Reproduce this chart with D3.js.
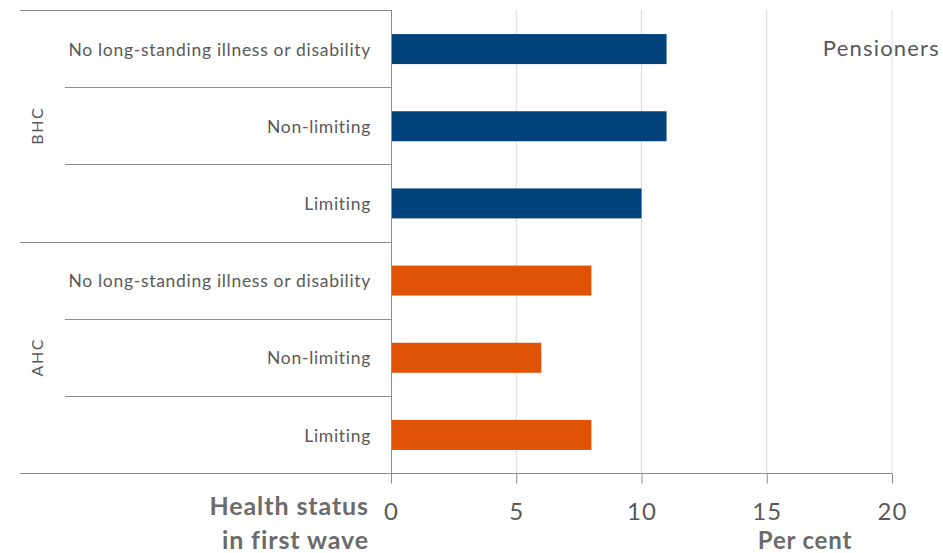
<!DOCTYPE html>
<html><head><meta charset="utf-8">
<script src="https://cdn.jsdelivr.net/npm/d3@7"></script>
<style>body{margin:0;background:#fff}svg{display:block}</style>
</head><body>
<svg id="c" width="943" height="553"></svg>
<script>
const groups = ["BHC", "AHC"];
const categories = ["No long-standing illness or disability", "Non-limiting", "Limiting"];
const bhcValues = [11, 11, 10];
const ahcValues = [8, 6, 8];
const xTicks = [0, 5, 10, 15, 20];
const panelTitle = "Pensioners";
const xTitle = "Per cent";
const yTitle = ["Health status", "in first wave"];

const colors = {BHC: "#01437a", AHC: "#e05206"};
const font = "Lato, 'Open Sans', sans-serif";
const textCol = "#595959";
const svg = d3.select("#c");

const rows = [];
groups.forEach((g, gi) => {
  const vals = gi === 0 ? bhcValues : ahcValues;
  categories.forEach((c, ci) => rows.push({group: g, cat: c, value: vals[ci], key: g + "|" + c, first: ci === 0}));
});

const x = d3.scaleLinear().domain([0, 20]).range([391, 892]);
const y = d3.scaleBand().domain(rows.map(d => d.key)).range([10, 473]).paddingInner(0).paddingOuter(0);
const bh = 30;

// gridlines
svg.append("g").selectAll("line").data(xTicks.slice(1)).join("line")
  .attr("x1", d => x(d)).attr("x2", d => x(d)).attr("y1", 10).attr("y2", 473)
  .attr("stroke", "#d9d9d9").attr("stroke-width", 1);

// bars
svg.append("g").selectAll("rect").data(rows).join("rect")
  .attr("x", x(0)).attr("width", d => x(d.value) - x(0))
  .attr("y", d => y(d.key) + y.bandwidth() / 2 - bh / 2 + 0.5).attr("height", bh)
  .attr("fill", d => colors[d.group]);

// row separator lines
const lineCol = "#8c8c8c";
svg.append("g").selectAll("line").data(rows).join("line")
  .attr("x1", d => d.first ? 20 : 65).attr("x2", x(0))
  .attr("y1", d => Math.round(y(d.key)) + 0.5).attr("y2", d => Math.round(y(d.key)) + 0.5)
  .attr("stroke", lineCol).attr("stroke-width", 1);

// bottom axis
const xAxis = d3.axisBottom(x).tickValues(xTicks).tickSize(10).tickPadding(19).tickFormat(d3.format("d"));
const ax = svg.append("g").attr("transform", "translate(0,473.5)").call(xAxis);
ax.select(".domain").remove();
ax.selectAll(".tick line").attr("stroke", lineCol);
ax.selectAll(".tick text").attr("fill", textCol).attr("font-family", font).attr("font-size", 24)
  .attr("letter-spacing", 1);
svg.append("line").attr("x1", 20).attr("x2", x(20)).attr("y1", 473.5).attr("y2", 473.5).attr("stroke", lineCol);
// vertical axis line
svg.append("line").attr("x1", x(0) + 0.5).attr("x2", x(0) + 0.5).attr("y1", 10).attr("y2", 473).attr("stroke", lineCol);

// category labels
svg.append("g").selectAll("text").data(rows).join("text")
  .attr("x", 371).attr("y", d => y(d.key) + y.bandwidth() / 2 + 1)
  .attr("dy", "0.35em").attr("text-anchor", "end")
  .attr("fill", textCol).attr("font-family", font).attr("font-size", 17.5).attr("letter-spacing", 0.7)
  .text(d => d.cat);

// group labels
groups.forEach((g, gi) => {
  const keys = rows.filter(r => r.group === g).map(r => r.key);
  const cy = (y(keys[0]) + y(keys[keys.length - 1]) + y.bandwidth()) / 2;
  svg.append("text").attr("transform", `translate(37,${cy}) rotate(-90)`)
    .attr("text-anchor", "middle").attr("dy", "0.35em")
    .attr("fill", textCol).attr("font-family", font).attr("font-size", 16).attr("letter-spacing", 1.5).text(g);
});

// titles
svg.append("text").attr("x", 940).attr("y", 48).attr("dy", "0.35em").attr("text-anchor", "end")
  .attr("fill", textCol).attr("font-family", font).attr("font-size", 22).attr("letter-spacing", 1.2).text(panelTitle);
svg.append("text").attr("x", 805).attr("y", 549).attr("text-anchor", "middle")
  .attr("fill", "#6b6b6b").attr("font-family", font).attr("font-weight", "bold").attr("font-size", 24)
  .attr("letter-spacing", 0.8).text(xTitle);
yTitle.forEach((t, i) => svg.append("text").attr("x", 369).attr("y", 515 + i * 34).attr("text-anchor", "end")
  .attr("fill", "#6b6b6b").attr("font-family", font).attr("font-weight", "bold").attr("font-size", 25)
  .attr("letter-spacing", 0.9).text(t));
</script>
</body></html>
